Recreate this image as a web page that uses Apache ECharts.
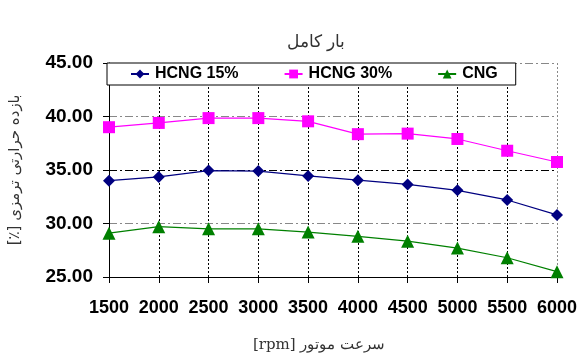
<!DOCTYPE html>
<html>
<head>
<meta charset="utf-8">
<script src="https://cdn.jsdelivr.net/npm/echarts@6/dist/echarts.min.js"></script>
<style>
  html, body { margin: 0; padding: 0; background: #fff; }
  #main { width: 580px; height: 358px; }
</style>
</head>
<body>
<div id="main"></div>
<script>
  // دور موتور
  var rpm = ['1500', '2000', '2500', '3000', '3500', '4000', '4500', '5000', '5500', '6000'];
  var hcng15 = [34.0, 34.35, 34.95, 34.9, 34.45, 34.05, 33.65, 33.1, 32.2, 30.8];
  var hcng30 = [39.0, 39.4, 39.85, 39.85, 39.55, 38.35, 38.4, 37.9, 36.8, 35.75];
  var cng = [29.1, 29.7, 29.5, 29.5, 29.2, 28.8, 28.35, 27.7, 26.8, 25.5];

  var myEcharts = echarts.init(document.getElementById('main'));
  var dashDot = [8, 3, 2, 3];

  var options = {
    animation: false,
    title: [{
      text: 'بار کامل',
      left: 311,
      top: 29,
      textAlign: 'center',
      textStyle: { fontSize: 17, fontWeight: 'normal', color: '#333', fontFamily: 'DejaVu Serif, serif' }
    }, {
      text: '[rpm] سرعت موتور',
      left: 314,
      top: 333,
      textAlign: 'center',
      textStyle: { fontSize: 15, fontWeight: 'normal', color: '#333', fontFamily: 'DejaVu Serif, serif' }
    }],
    grid: {
      left: 107,
      right: 23,
      top: 63,
      bottom: 81
    },
    legend: {
      left: 107,
      top: 63,
      padding: [3, 18, 3, 23],
      itemGap: 45,
      itemWidth: 18,
      itemHeight: 11,
      backgroundColor: '#fff',
      borderColor: '#000',
      borderWidth: 1,
      borderRadius: 0,
      textStyle: { fontSize: 16, fontWeight: 'bold', color: '#000', fontFamily: 'Liberation Sans, Arial', padding: [0, 0, 0, 1] },
      data: ['HCNG 15%', 'HCNG 30%', 'CNG']
    },
    xAxis: {
      type: 'category',
      boundaryGap: false,
      data: rpm,
      axisLine: { lineStyle: { color: '#000', width: 1 } },
      axisTick: { show: true, interval: 0, length: 6, lineStyle: { color: '#000' } },
      axisLabel: { interval: 0, margin: 22, fontSize: 18, fontWeight: 'bold', color: '#000', fontFamily: 'Liberation Sans, Arial' },
      splitLine: {
        show: true,
        interval: 0,
        lineStyle: {
          type: [2, 2],
          color: ['#000', '#000', '#000', '#000', '#000', '#000', '#000', '#000', '#000', '#888']
        }
      }
    },
    yAxis: {
      type: 'value',
      min: 25,
      max: 45,
      interval: 5,
      name: '\u202Bبازده حرارتی ترمزی [٪]\u202C',
      nameLocation: 'middle',
      nameRotate: 90,
      nameGap: 86,
      nameTextStyle: { fontSize: 15, color: '#333', fontFamily: 'DejaVu Sans, sans-serif' },
      axisLine: { show: true, lineStyle: { color: '#000', width: 1 } },
      axisTick: { show: true, length: 6, lineStyle: { color: '#000' } },
      axisLabel: {
        margin: 16,
        fontSize: 19,
        fontWeight: 'bold',
        color: '#000',
        fontFamily: 'Liberation Sans, Arial',
        formatter: function (v) { return v.toFixed(2); }
      },
      splitLine: {
        show: true,
        lineStyle: {
          type: dashDot,
          color: ['#888', '#888', '#000', '#888', '#888']
        }
      }
    },
    series: [{
      name: 'HCNG 15%',
      type: 'line',
      data: hcng15,
      symbol: 'diamond',
      symbolSize: 12,
      itemStyle: { color: '#000080' },
      lineStyle: { color: '#000080', width: 1.2 }
    }, {
      name: 'HCNG 30%',
      type: 'line',
      data: hcng30,
      symbol: 'rect',
      symbolSize: 12,
      itemStyle: { color: '#ff00ff' },
      lineStyle: { color: '#ff00ff', width: 1.2 }
    }, {
      name: 'CNG',
      type: 'line',
      data: cng,
      symbol: 'triangle',
      symbolSize: 13,
      itemStyle: { color: '#008000' },
      lineStyle: { color: '#008000', width: 1.2 }
    }]
  };

  myEcharts.setOption(options, true);
</script>
</body>
</html>
